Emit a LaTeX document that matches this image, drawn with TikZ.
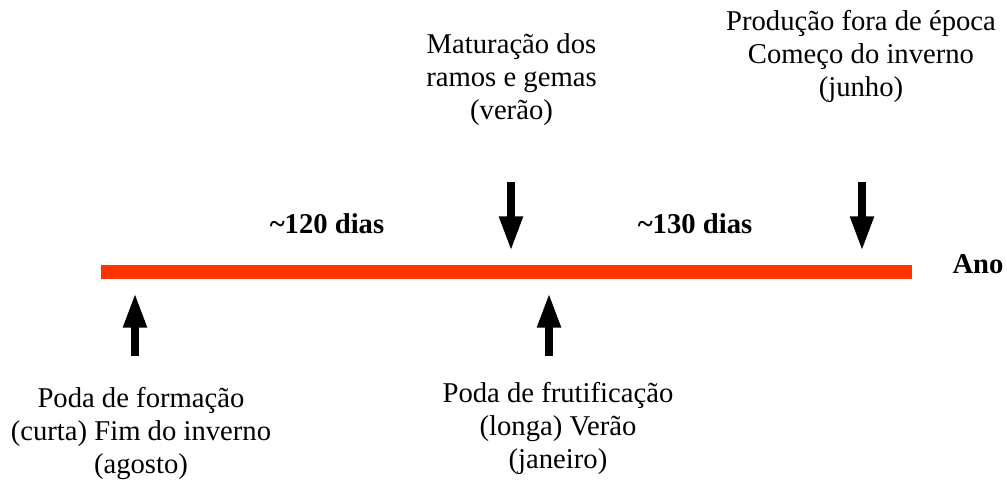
\documentclass[tikz,border=0pt]{standalone}
\usepackage{fontspec}
\setmainfont{Liberation Serif}
\usepackage{tikz}
\usetikzlibrary{arrows.meta}
\definecolor{barred}{RGB}{255,51,0}
\tikzstyle{txt} = [align=center,inner sep=0pt,anchor=north,font=\fontsize{21.5}{24.75}\selectfont]
\tikzstyle{bold} = [inner sep=0pt,anchor=base,font=\fontsize{21.5}{24.75}\selectfont\bfseries]
\tikzstyle{fat} = [line width=6pt]
\tikzset{>={Triangle[width=16.5pt,length=26pt]}}

\begin{document}
\begin{tikzpicture}[x=0.75pt,y=-0.75pt]
    \useasboundingbox (0,0) rectangle (1007,482);
    % time line
    \coordinate (start) at (101,272);
    \coordinate (end) at (912,272);
    \draw [line width=10.5pt,barred] (start) -- (end);
    \node [bold] (ano) at (978,273) {Ano};
    % arrows below the line
    \coordinate (formtail) at (135,356);
    \coordinate (formtip) at (135,293);
    \coordinate (frutail) at (549,356);
    \coordinate (frutip) at (549,293);
    \draw [fat,->] (formtail) -- (formtip);
    \draw [fat,->] (frutail) -- (frutip);
    % arrows above the line
    \coordinate (matutail) at (511,182);
    \coordinate (matutip) at (511,251);
    \coordinate (prodtail) at (862,182);
    \coordinate (prodtip) at (862,251);
    \draw [fat,->] (matutail) -- (matutip);
    \draw [fat,->] (prodtail) -- (prodtip);
    % spans
    \node [bold] (d120) at (327,233) {\textasciitilde120 dias};
    \node [bold] (d130) at (695,233) {\textasciitilde130 dias};
    % labels
    \node [txt] (matu) at (511.5,33) {Maturação dos\\ramos e gemas\\(verão)};
    \node [txt] (prod) at (861,10) {Produção fora de época\\Começo do inverno\\(junho)};
    \node [txt] (form) at (141,387.5) {Poda de formação\\(curta) Fim do inverno\\(agosto)};
    \node [txt] (frut) at (558,382.5) {Poda de frutificação\\(longa) Verão\\(janeiro)};
  \end{tikzpicture}
\end{document}
